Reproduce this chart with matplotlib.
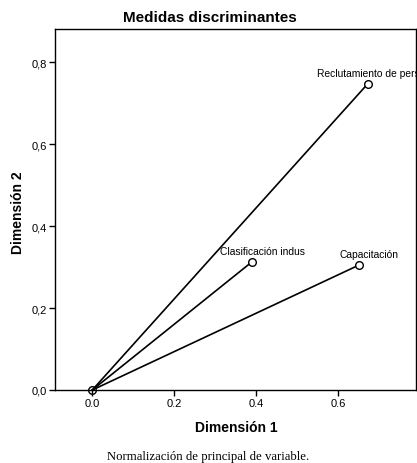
import matplotlib
matplotlib.use("Agg")
import matplotlib.pyplot as plt
import matplotlib.transforms as mtransforms

# Data
variables = ["Reclutamiento de personal", "Clasificación indus", "Capacitación"]
dim1 = [0.672, 0.390, 0.651]
dim2 = [0.747, 0.313, 0.305]

xticks = [0.0, 0.2, 0.4, 0.6]
xticklabels = ["0.0", "0.2", "0.4", "0.6"]
yticks = [0.0, 0.2, 0.4, 0.6, 0.8]
yticklabels = ["0,0", "0,2", "0,4", "0,6", "0,8"]

plt.rcParams['font.family'] = ['Liberation Sans', 'DejaVu Sans']

W, H = 417, 464
fig = plt.figure(figsize=(W / 100, H / 100), dpi=100)
ax = fig.add_axes([55 / W, 1 - 391 / H, (416 - 55) / W, (391 - 30) / H])

for x, y in zip(dim1, dim2):
    ax.plot([0, x], [0, y], color='black', lw=1.2, zorder=2)
    ax.plot([x], [y], marker='o', ms=5.5, mfc='white', mec='black', mew=1.0,
            linestyle='none', zorder=3)
ax.plot([0], [0], marker='o', ms=5.5, mfc='none', mec='black', mew=1.0,
        linestyle='none', zorder=3, clip_on=False)

offset = mtransforms.offset_copy(ax.transData, fig=fig, x=10 * 0.72, y=11 * 0.72, units='points')
for name, x, y in zip(variables, dim1, dim2):
    ax.text(x, y, name, transform=offset, ha='center', va='center', fontsize=7.4,
            clip_on=True)

ax.set_xlim(-0.091, 0.79)
ax.set_ylim(0, 0.881)
ax.set_xticks(xticks)
ax.set_xticklabels(xticklabels, fontsize=8)
ax.set_yticks(yticks)
ax.set_yticklabels(yticklabels, fontsize=8)
ax.tick_params(direction='out', length=4, width=1, pad=2)
for s in ax.spines.values():
    s.set_linewidth(1.0)
    s.set_color('black')

fig.text(210 / W, 1 - 18 / H, "Medidas discriminantes", ha='center', va='center',
         fontsize=11, fontweight='bold')
fig.text(236 / W, 1 - 428 / H, "Dimensión 1", ha='center', va='center',
         fontsize=10, fontweight='bold')
fig.text(18 / W, 1 - 213 / H, "Dimensión 2", ha='center', va='center',
         fontsize=10, fontweight='bold', rotation=90)
fig.text(208 / W, 1 - 457 / H, "Normalización de principal de variable.", ha='center',
         va='center', fontsize=9.2, family=['Liberation Serif', 'DejaVu Serif'])

fig.savefig("out.png", dpi=100)
